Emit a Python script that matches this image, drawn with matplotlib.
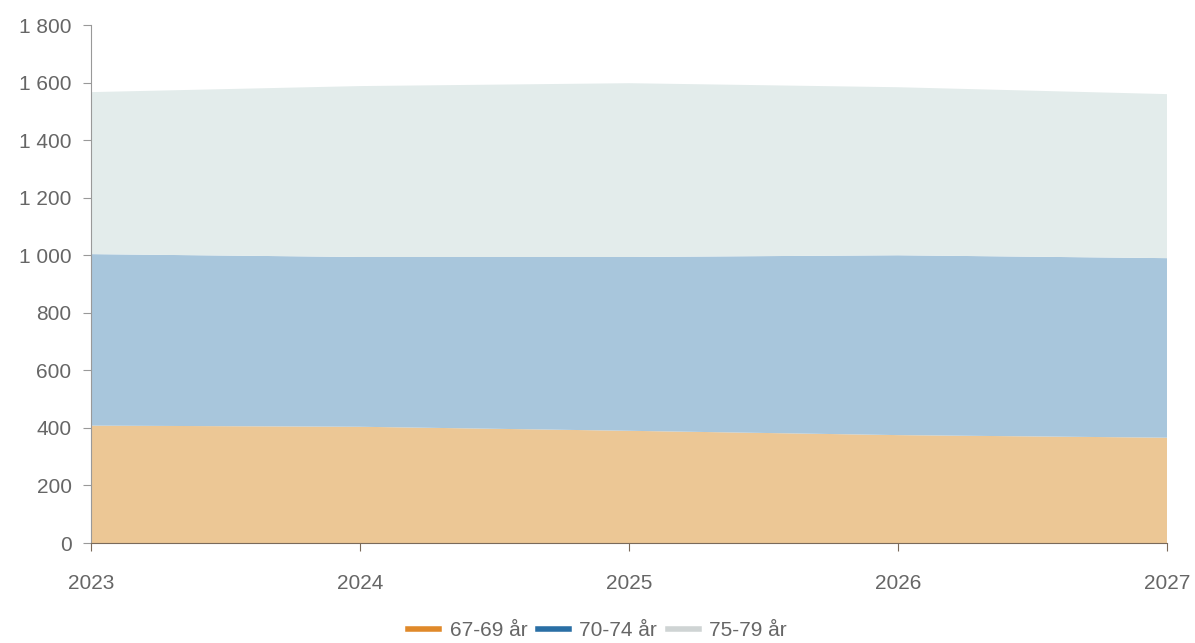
import matplotlib.pyplot as plt
from matplotlib.ticker import FuncFormatter

plt.rcParams['font.family'] = ['Liberation Sans', 'DejaVu Sans']

# Data
years = [2023, 2024, 2025, 2026, 2027]
age_67_69 = [408, 404, 390, 375, 366]
age_70_74 = [596, 590, 604, 625, 624]
age_75_79 = [563, 594, 604, 584, 570]
labels = ['67-69 år', '70-74 år', '75-79 år']
line_colors = ['#e0892a', '#2a6fa5', '#cfd4d4']
fill_colors = ['#ecc795', '#a8c6dc', '#e3eceb']

fig = plt.figure(figsize=(11.95, 6.43), dpi=100)
ax = fig.add_axes([0.0762, 0.1555, 0.9004, 0.8055])

ax.stackplot(years, age_67_69, age_70_74, age_75_79, colors=fill_colors, linewidth=0)

# legend handles as short thick lines
handles = [plt.Line2D([], [], color=c, lw=4) for c in line_colors]
fig.legend(handles, labels, loc='lower center', bbox_to_anchor=(0.5, -0.025), ncol=3,
           frameon=False, fontsize=15, handlelength=1.5, handletextpad=0.5,
           columnspacing=0.5, labelcolor='#666666')

ax.set_xlim(2023, 2027)
ax.set_ylim(0, 1800)
ax.set_xticks(years)
ax.set_yticks(range(0, 1801, 200))
ax.yaxis.set_major_formatter(FuncFormatter(lambda v, p: f'{int(v):,}'.replace(',', ' ')))

for s in ['top', 'right']:
    ax.spines[s].set_visible(False)
ax.spines['left'].set_color('#999999')
ax.spines['bottom'].set_color('#7a6a5a')
ax.tick_params(axis='y', colors='#999999', labelcolor='#666666', labelsize=15, length=6, pad=8)
ax.tick_params(axis='x', colors='#7a6a5a', labelcolor='#666666', labelsize=15, length=6, pad=16)

fig.savefig('out.png', dpi=100)
